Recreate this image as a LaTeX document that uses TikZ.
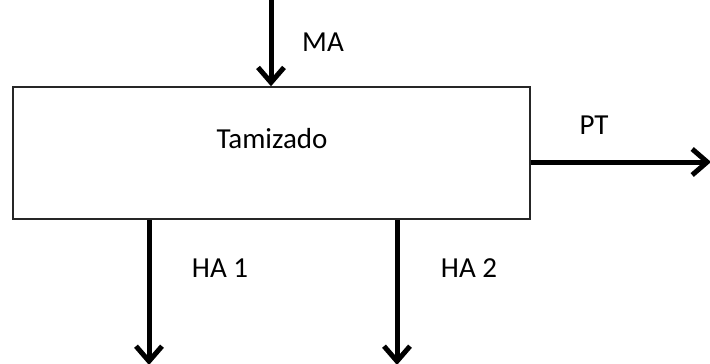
\documentclass[tikz,border=0pt]{standalone}
\usepackage{fontspec}
\setmainfont{Carlito}
\usetikzlibrary{arrows.meta,positioning}

\begin{document}
\begin{tikzpicture}[
  x=1pt, y=-1pt,
  >={Straight Barb[length=15pt, width=26pt, line join=miter]},
  proc/.style={draw=black!85, line width=1.5pt, minimum width=517pt,
               minimum height=132pt, inner sep=0pt},
  flow/.style={line width=5pt, ->},
  lb/.style={font=\fontsize{29}{34}\selectfont, inner sep=0pt},
]
\useasboundingbox (0,0) rectangle (710,364);

\node[proc] (tam) at (271.5,153) {};
\node[lb] (tamtxt) at (272,139) {Tamizado};

% free ends of the streams
\coordinate (ma)  at (271,0);
\coordinate (pt)  at (711,162);
\coordinate (ha1) at (149,365);
\coordinate (ha2) at (397,365);

\draw[flow] (ma) -- (ma |- tam.north);
\draw[flow] (tam.east |- pt) -- (pt);
\draw[flow] (tam.south -| ha1) -- (ha1);
\draw[flow] (tam.south -| ha2) -- (ha2);

\node[lb] (malb)  at (323,42)  {MA};
\node[lb] (ptlb)  at (594,125) {PT};
\node[lb] (ha1lb) at (220,268) {HA 1};
\node[lb] (ha2lb) at (469,268) {HA 2};
\end{tikzpicture}
\end{document}
